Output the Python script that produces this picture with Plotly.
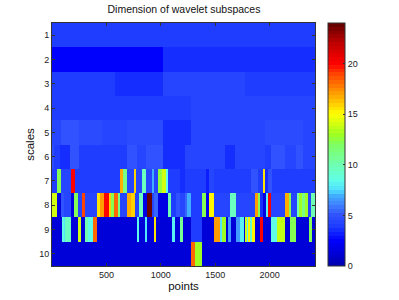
import numpy as np
import plotly.graph_objects as go

TITLE = "Dimension of wavelet subspaces"
X_TICKS = [500, 1000, 1500, 2000]
Y_TICKS = list(range(1, 11))
CB_TICKS = [0, 5, 10, 15, 20]
X_MAX = 2417

row1_ends = [2417]
row1_vals = [3.8]
row2_ends = [1020, 2417]
row2_vals = [2.6, 3.7]
row3_ends = [579, 1020, 1773, 2417]
row3_vals = [4.1, 3.7, 4.3, 3.8]
row4_ends = [1277, 2417]
row4_vals = [4.0, 4.3]
row5_ends = [83, 248, 460, 690, 1020, 1277, 1957, 2306, 2417]
row5_vals = [4.3, 5.2, 4.6, 4.2, 4.7, 3.7, 4.2, 4.6, 4.2]
row6_ends = [18, 74, 166, 248, 331, 690, 781, 864, 1023, 1222, 1590, 1681, 1957, 2012, 2141, 2242, 2306, 2417]
row6_vals = [4.5, 3.8, 3.5, 5.0, 4.0, 4.0, 5.0, 4.4, 5.0, 3.7, 4.2, 3.5, 4.4, 3.9, 5.0, 4.2, 5.0, 4.2]
row7_ends = [49, 83, 172, 208, 625, 656, 692, 757, 772, 830, 861, 919, 937, 971, 1008, 1045, 1066, 1177, 1222, 1415, 1440, 1489, 1774, 1829, 1896, 1936, 1958, 1982, 2019, 2417]
row7_vals = [4.0, 12, 4.4, 20, 4.0, 16.5, 11, 4.4, 16, 4.4, 9.5, 4.4, 7, 4.4, 12.5, 14, 8.5, 4.0, 3.7, 4.1, 3.0, 4.4, 3.9, 4.1, 5.0, 3.9, 15.5, 3.5, 5.0, 3.9]
row8_ends = [49, 86, 110, 172, 205, 242, 273, 303, 411, 441, 481, 524, 542, 570, 604, 625, 692, 723, 763, 800, 833, 876, 922, 937, 971, 1063, 1097, 1137, 1177, 1222, 1244, 1274, 1379, 1415, 1440, 1489, 1636, 1688, 1768, 1866, 1896, 1915, 1939, 1964, 1988, 2013, 2141, 2178, 2193, 2249, 2270, 2300, 2325, 2356, 2380, 2417]
row8_vals = [14, 1.6, 5, 4.2, 1.6, 12, 4.2, 19, 4.2, 15.5, 17, 20, 16, 12, 18, 11, 4.2, 16.5, 16, 4.2, 9.5, 1.6, 24, 4.2, 5.5, 1.5, 10, 4, 5, 4.3, 5.5, 7, 4, 12, 2, 15, 4.2, 9.5, 4.2, 4.2, 17, 12, 3.5, 1.6, 8, 20, 4.2, 16.5, 12, 4.2, 10, 13, 11, 13, 4.2, 10]
row9_ends = [89, 110, 123, 172, 242, 267, 303, 328, 374, 411, 784, 800, 858, 876, 934, 956, 1103, 1130, 1173, 1201, 1274, 1379, 1489, 1544, 1559, 1599, 1615, 1645, 1694, 1731, 1768, 1777, 1792, 1804, 1823, 1835, 1866, 1909, 1939, 2016, 2065, 2141, 2190, 2239, 2362, 2386, 2417]
row9_vals = [1.3, 8.5, 7.5, 9.5, 1.3, 14, 1.3, 10, 8.5, 18, 1.3, 8.5, 1.3, 7.5, 1.3, 15.5, 1.3, 8, 1.3, 10.5, 1.3, 4, 1.3, 17, 7.5, 13, 1.3, 6.5, 1.3, 6.5, 8, 1.3, 14, 8, 15, 9, 15, 1.3, 20, 1.3, 8.5, 13.5, 1.3, 12, 1.3, 12, 1.3]
row10_ends = [1274, 1314, 1379, 2417]
row10_vals = [1.3, 18, 13, 1.3]

# colour anchors (value, r, g, b)
CMAP_V = [0, 2.5, 4, 5, 6, 7, 7.5, 8.5, 10, 12, 13, 15, 17, 19, 20, 22, 24]
CMAP_R = [0, 0, 32, 48, 64, 64, 80, 96, 112, 128, 160, 255, 255, 255, 255, 192, 96]
CMAP_G = [0, 0, 64, 80, 128, 176, 224, 255, 255, 255, 255, 255, 160, 64, 0, 0, 0]
CMAP_B = [176, 255, 255, 255, 255, 255, 255, 232, 176, 96, 32, 0, 0, 0, 0, 0, 0]

rows = [
    (row1_ends, row1_vals), (row2_ends, row2_vals), (row3_ends, row3_vals),
    (row4_ends, row4_vals), (row5_ends, row5_vals), (row6_ends, row6_vals),
    (row7_ends, row7_vals), (row8_ends, row8_vals), (row9_ends, row9_vals),
    (row10_ends, row10_vals),
]

edges = sorted({0} | {e for ends, _ in rows for e in ends})
centers = (np.array(edges[:-1]) + np.array(edges[1:])) / 2
z = [[vals[int(np.searchsorted(ends, c))] for c in centers] for ends, vals in rows]

N = 64
colorscale = []
for i in range(N):
    v = (i + 0.5) / N * 24
    r, g, b = (int(np.interp(v, CMAP_V, ch)) for ch in (CMAP_R, CMAP_G, CMAP_B))
    c = f"rgb({r},{g},{b})"
    colorscale += [[i / N, c], [(i + 1) / N, c]]

W, H = 399, 300
L, R, T, B = 52, 315, 23, 266
AX = "#333333"
fig = go.Figure(go.Heatmap(
    x=edges, y=Y_TICKS, z=z, zmin=0, zmax=24, colorscale=colorscale,
    zsmooth=False,
    colorbar=dict(
        thickness=17, thicknessmode="pixels", len=1, lenmode="fraction",
        x=(328 - L) / (R - L), xanchor="left",
        y=0, yanchor="bottom", ypad=0, xpad=0,
        tickvals=CB_TICKS, ticks="inside", ticklen=2, tickcolor=AX,
        outlinecolor=AX, outlinewidth=1,
        tickfont=dict(family="Liberation Sans", size=9, color="#222222"),
    ),
))
fig.update_layout(
    width=W, height=H, autosize=False,
    margin=dict(l=L, r=W - R, t=T, b=H - B, autoexpand=False),
    paper_bgcolor="white", plot_bgcolor="white",
    title=dict(text=TITLE, x=184 / W, xanchor="center", y=1 - 9.5 / H, yanchor="middle",
               font=dict(family="Liberation Sans", size=10.5, color="#111111")),
    xaxis=dict(range=[0, X_MAX], tickvals=X_TICKS, ticks="inside", ticklen=3,
               tickcolor=AX, showline=True, linecolor=AX, linewidth=1, mirror="allticks",
               showgrid=False, zeroline=False,
               tickfont=dict(family="Liberation Sans", size=9, color="#222222"),
               title=dict(text="points", standoff=2,
                          font=dict(family="Liberation Sans", size=11.5, color="#111111"))),
    yaxis=dict(range=[10.5, 0.5], tickvals=Y_TICKS, ticks="inside", ticklen=3,
               tickcolor=AX, showline=True, linecolor=AX, linewidth=1, mirror="allticks",
               showgrid=False, zeroline=False,
               tickfont=dict(family="Liberation Sans", size=9, color="#222222"),
               title=dict(text="scales", standoff=2,
                          font=dict(family="Liberation Sans", size=11.5, color="#111111"))),
)
fig.write_html("out.html", config={"displayModeBar": False},
               post_script="document.body.style.margin='0';")
